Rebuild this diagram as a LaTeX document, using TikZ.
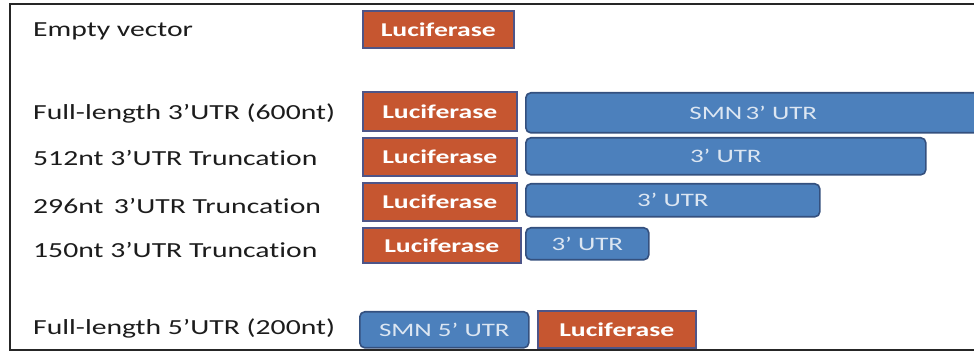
\documentclass[tikz,border=0pt]{standalone}
\usepackage{fontspec}
\setmainfont{Carlito}
\newfontfamily\labelfont[FakeStretch=1.38, Ligatures=NoCommon]{Carlito}
\newfontfamily\boxfont[FakeStretch=1.42, Ligatures=NoCommon]{Carlito}
\definecolor{lucfill}{HTML}{C65630}
\definecolor{lucedge}{HTML}{4E5588}
\definecolor{utrfill}{HTML}{4C80BC}
\definecolor{utredge}{HTML}{34507E}
\definecolor{utrtext}{HTML}{DCE6F2}
\definecolor{labeltext}{HTML}{1C1C1C}
\tikzset{
  part/.style={draw, line width=1.6pt, inner sep=0pt, anchor=north west},
  luc/.style={part, fill=lucfill, draw=lucedge, text=white,
    font=\boxfont\bfseries\fontsize{19.5}{21}\selectfont},
  utr/.style={part, fill=utrfill, draw=utredge, rounded corners=5pt, text=utrtext,
    font=\boxfont\fontsize{19}{21}\selectfont},
  rowlabel/.style={anchor=west, inner sep=0pt, text=labeltext,
    font=\labelfont\fontsize{21.5}{24}\selectfont},
}
% a box from its top-left corner (#6,#7) with width #4 and height #5
\newcommand{\partbox}[7]{%
  \node[#1, minimum width=#4pt, minimum height=#5pt] (#2) at (#6,#7) {#3};}
\begin{document}
\begin{tikzpicture}[x=1pt, y=-1pt]
  \useasboundingbox (0,0) rectangle (974,352);
  \clip (0,0) rectangle (974,352);
  % outer frame (its right side lies past the edge)
  \draw[line width=1.6pt, black!85] (1000,4) -- (10,4) -- (10,350) -- (1000,350);

  % row labels
  \node[rowlabel] (l1) at (33,31)  {Empty vector};
  \node[rowlabel] (l2) at (33,113) {Full-length 3’UTR (600nt)};
  \node[rowlabel] (l3) at (33,158) {512nt 3’UTR Truncation};
  \node[rowlabel] (l4) at (33,206) {296nt \,3’UTR Truncation};
  \node[rowlabel] (l5) at (33,250) {150nt 3’UTR Truncation};
  \node[rowlabel] (l6) at (33,328) {Full-length 5’UTR (200nt)};

  % constructs
  \partbox{luc}{luc1}{Luciferase}{151}{37}{362}{10}

  \partbox{luc}{luc2}{Luciferase}{154}{39}{362}{91}
  \partbox{utr}{utr2}{SMN\,3’ UTR}{455}{40}{525}{92}

  \partbox{luc}{luc3}{Luciferase}{154}{38}{362}{137}
  \partbox{utr}{utr3}{3’ UTR}{400}{37}{525}{137}

  \partbox{luc}{luc4}{Luciferase}{154}{38}{362}{182}
  \partbox{utr}{utr4}{3’ UTR}{294}{33}{525}{183}

  \partbox{luc}{luc5}{Luciferase}{158}{35}{362}{227}
  \partbox{utr}{utr5}{3’ UTR}{123}{32}{525}{227}

  \partbox{utr}{utr6}{SMN 5’ UTR}{169}{36}{359}{311}
  \partbox{luc}{luc6}{Luciferase}{158}{37}{537}{310}
\end{tikzpicture}
\end{document}
